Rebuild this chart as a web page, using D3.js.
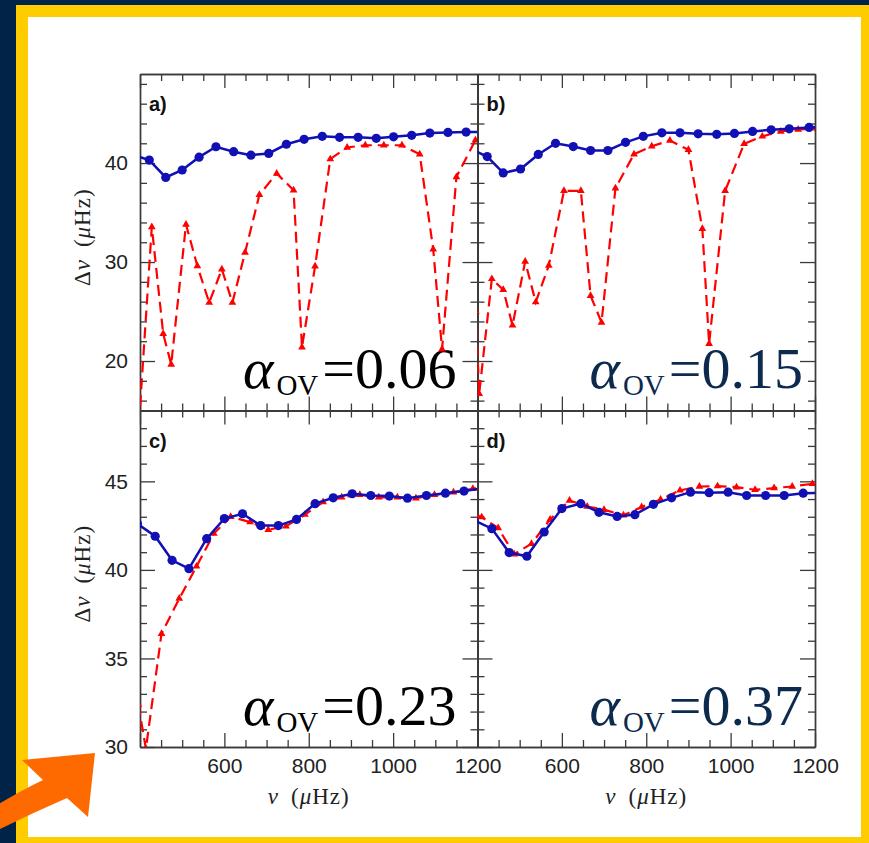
<!DOCTYPE html>
<html>
<head>
<meta charset="utf-8">
<script src="https://cdn.jsdelivr.net/npm/d3@7"></script>
<style>
  body { margin: 0; background: #012348; }
  svg { display: block; }
</style>
</head>
<body>
<svg id="fig"></svg>
<script>
// Δν vs ν, four overshoot values; [ν (μHz), Δν (μHz)]
const blueA = [[382,40.85],[422,40.3],[461,38.55],[500,39.3],[540,40.6],[580,41.65],[622,41.15],[663,40.8],[705,40.97],[747,41.9],[789,42.4],[832,42.7],[873,42.6],[917,42.6],[960,42.5],[1001,42.65],[1044,42.8],[1087,43.03],[1130,43.1],[1173,43.13],[1215,43.15]];
const redA  = [[395,12],[428,33.55],[455,22.76],[474,19.65],[509,33.8],[536,29.6],[564,25.9],[594,29.27],[619,25.9],[649,30.96],[683,36.8],[724,38.95],[764,37.26],[784,21.4],[815,29.57],[851,40.4],[891,41.58],[934,41.8],[978,41.8],[1021,41.8],[1063,40.9],[1095,31.3],[1116,21.2],[1150,38.6],[1195,42.3]];

const blueB = [[380,41.5],[423,40.66],[461,39.0],[502,39.4],[544,40.87],[585,42.0],[627,41.67],[668,41.27],[709,41.27],[751,42.1],[793,42.7],[837,43.06],[880,43.06],[923,42.96],[967,42.9],[1009,43.0],[1052,43.2],[1096,43.36],[1139,43.46],[1186,43.6],[1230,43.7]];
const redB  = [[396,25],[404,16.7],[434,28.3],[461,27.2],[483,23.6],[513,30.05],[538,25.95],[569,29.65],[605,37.2],[645,37.2],[668,26.6],[694,23.9],[727,37.46],[771,40.9],[813,41.7],[856,42.28],[900,41.34],[933,33.36],[949,21.74],[987,37.2],[1032,41.95],[1075,42.7],[1119,43.2],[1160,43.4],[1205,43.5]];

const blueC = [[394,42.6],[436,41.9],[476,40.54],[516,40.07],[558,41.76],[600,42.9],[643,43.17],[686,42.5],[728,42.5],[771,42.85],[815,43.74],[858,44.07],[903,44.3],[947,44.2],[991,44.17],[1034,44.05],[1079,44.2],[1124,44.33],[1168,44.45],[1212,44.6]];
const redC  = [[396,32.4],[414,29.9],[451,36.4],[493,38.38],[534,40.2],[575,42.05],[615,43.0],[661,42.7],[704,42.27],[746,42.46],[791,43.12],[834,43.83],[878,44.1],[921,44.24],[966,44.1],[1010,44.1],[1054,44.05],[1098,44.24],[1143,44.39],[1189,44.58],[1230,44.7]];

const blueD = [[392,42.8],[434,42.33],[475,40.98],[517,40.77],[558,42.14],[600,43.46],[645,43.74],[688,43.25],[731,43.02],[773,43.12],[817,43.7],[860,44.07],[905,44.39],[949,44.36],[994,44.39],[1038,44.2],[1083,44.2],[1127,44.2],[1172,44.33],[1215,44.35]];
const redD  = [[395,43.1],[410,42.98],[449,42.36],[487,40.88],[528,41.48],[572,42.85],[618,43.92],[660,43.58],[700,43.4],[746,43.08],[789,43.55],[834,43.98],[880,44.49],[926,44.71],[969,44.73],[1014,44.67],[1058,44.52],[1103,44.62],[1146,44.71],[1194,44.86]];

const panelLabels = ["a)", "b)", "c)", "d)"];
const alphaValues = ["0.06", "0.15", "0.23", "0.37"];

// ticks
const xDomain = [400, 1200];
const xMajor = [400, 600, 800, 1000, 1200];
const xMinor = [450, 500, 550, 650, 700, 750, 850, 900, 950, 1050, 1100, 1150];
const xTickLabels = [600, 800, 1000, 1200];
const yDomainTop = [15, 49];
const yMajorTop = [20, 30, 40];
const yMinorTop = [16, 18, 22, 24, 26, 28, 32, 34, 36, 38, 42, 44, 46, 48];
const yDomainBot = [30, 49];
const yMajorBot = [30, 35, 40, 45];
const yMinorBot = [31, 32, 33, 34, 36, 37, 38, 39, 41, 42, 43, 44, 46, 47, 48];

const W = 869, H = 843;
const plotLeft = 140, plotTop = 74, pw = 337.5, ph = 336.5;
const navy = "#012348", blue = "#1010b4", red = "#ff0000";
const serif = "'Liberation Serif', 'Times New Roman', serif";
const sans = "'Liberation Sans', Arial, sans-serif";

const svg = d3.select("#fig").attr("width", W).attr("height", H);

// frame
svg.append("rect").attr("width", W).attr("height", H).attr("fill", navy);
svg.append("rect").attr("x", 16).attr("y", 5).attr("width", 880).attr("height", 860).attr("fill", "#ffcc00");
svg.append("rect").attr("x", 28).attr("y", 17).attr("width", 833).attr("height", 820).attr("fill", "#fff");

const panels = [
  { blue: blueA, red: redA, col: 0, row: 0, txt: "#000" },
  { blue: blueB, red: redB, col: 1, row: 0, txt: "#0b2a4e" },
  { blue: blueC, red: redC, col: 0, row: 1, txt: "#000" },
  { blue: blueD, red: redD, col: 1, row: 1, txt: "#0b2a4e" }
];

const axisColor = "#3a3a3a";

function styleAxis(g) {
  g.selectAll("path.domain").attr("stroke", axisColor).attr("stroke-width", 1.4);
  g.selectAll(".tick line").attr("stroke", axisColor).attr("stroke-width", 1.3);
}

panels.forEach((p, i) => {
  const x0 = plotLeft + p.col * pw, y0 = plotTop + p.row * ph;
  const x = d3.scaleLinear().domain(xDomain).range([x0, x0 + pw]);
  const y = d3.scaleLinear().domain(p.row === 0 ? yDomainTop : yDomainBot).range([y0 + ph, y0]);
  const yMajor = p.row === 0 ? yMajorTop : yMajorBot;
  const yMinor = p.row === 0 ? yMinorTop : yMinorBot;

  const g = svg.append("g");

  // inward ticks on all four sides
  const sides = [
    [d3.axisBottom(x), `translate(0,${y0 + ph})`, xMajor, xMinor, 14],
    [d3.axisTop(x), `translate(0,${y0})`, xMajor, xMinor, 14],
    [d3.axisLeft(y), `translate(${x0},0)`, yMajor, yMinor, 15],
    [d3.axisRight(y), `translate(${x0 + pw},0)`, yMajor, yMinor, 15]
  ];
  sides.forEach(([ax, tr, maj, min, len]) => {
    g.append("g").attr("transform", tr)
      .call(ax.tickValues(maj).tickSize(-len).tickSizeOuter(0).tickFormat(""))
      .call(styleAxis);
    g.append("g").attr("transform", tr)
      .call(ax.tickValues(min).tickSize(-7).tickSizeOuter(0).tickFormat(""))
      .call(styleAxis);
  });

  // tick labels
  if (p.col === 0) {
    g.append("g").attr("transform", `translate(${x0},0)`)
      .call(d3.axisLeft(y).tickValues(yMajor).tickSize(0).tickPadding(12).tickFormat(d3.format("d")))
      .call(a => a.select(".domain").remove())
      .selectAll("text")
      .attr("font-family", null)
      .style("font-family", sans).style("font-size", "21px").attr("fill", "#222");

    const yl = g.append("text")
      .attr("transform", `translate(90,${y0 + ph / 2 - 5}) rotate(-90)`)
      .attr("text-anchor", "middle")
      .style("font-family", serif).style("font-size", "23px")
      .style("letter-spacing", "1px").attr("fill", "#222");
    yl.append("tspan").text("Δ");
    yl.append("tspan").style("font-style", "italic").text("ν");
    yl.append("tspan").attr("dx", 12).text("(");
    yl.append("tspan").style("font-style", "italic").text("μ");
    yl.append("tspan").text("Hz)");
  }
  if (p.row === 1) {
    g.append("g").attr("transform", `translate(0,${y0 + ph})`)
      .call(d3.axisBottom(x).tickValues(xTickLabels).tickSize(0).tickPadding(11).tickFormat(d3.format("d")))
      .call(a => a.select(".domain").remove())
      .selectAll("text")
      .attr("font-family", null)
      .style("font-family", sans).style("font-size", "21px").attr("fill", "#222");

    const xl = g.append("text")
      .attr("x", x0 + pw / 2).attr("y", 804)
      .attr("text-anchor", "middle")
      .style("font-family", serif).style("font-size", "23px")
      .style("letter-spacing", "1px").attr("fill", "#222");
    xl.append("tspan").style("font-style", "italic").text("ν");
    xl.append("tspan").attr("dx", 12).text("(");
    xl.append("tspan").style("font-style", "italic").text("μ");
    xl.append("tspan").text("Hz)");
  }

  // data, clipped to the panel
  const clipId = "clip" + i;
  svg.append("clipPath").attr("id", clipId)
    .append("rect").attr("x", x0).attr("y", y0).attr("width", pw).attr("height", ph);
  const data = svg.append("g").attr("clip-path", `url(#${clipId})`);

  const line = d3.line().x(d => x(d[0])).y(d => y(d[1]));

  data.append("path").datum(p.red)
    .attr("d", line).attr("fill", "none")
    .attr("stroke", red).attr("stroke-width", 2.2)
    .attr("stroke-dasharray", "11,6");
  data.selectAll("path.tri").data(p.red).join("path")
    .attr("class", "tri")
    .attr("d", d3.symbol(d3.symbolTriangle, 26))
    .attr("transform", d => `translate(${x(d[0])},${y(d[1])})`)
    .attr("fill", red);

  data.append("path").datum(p.blue)
    .attr("d", line).attr("fill", "none")
    .attr("stroke", blue).attr("stroke-width", 2.5);
  data.selectAll("circle").data(p.blue).join("circle")
    .attr("cx", d => x(d[0])).attr("cy", d => y(d[1]))
    .attr("r", 4.6).attr("fill", blue);

  // panel letter
  g.append("text")
    .attr("x", x0 + 9).attr("y", y0 + 37)
    .style("font-family", sans).style("font-weight", "bold").style("font-size", "20px")
    .attr("fill", "#111")
    .text(panelLabels[i]);

  // overshoot annotation
  const pad = p.col === 0 ? 21 : 12;
  const at = g.append("text")
    .attr("x", x0 + pw - pad).attr("y", y0 + 314)
    .attr("text-anchor", "end")
    .style("font-family", serif).style("font-size", "58px").attr("fill", p.txt);
  at.append("tspan").style("font-style", "italic").text("α");
  at.append("tspan").style("font-size", "29px").attr("dx", 3).attr("dy", 7).text("OV");
  at.append("tspan").attr("dx", 4).attr("dy", -7).text("=" + alphaValues[i]);
});

// orange pointer arrow
svg.append("path")
  .attr("d", "M95,753 L22,760 L43,780 Q20,791 -6,807 L-6,832 Q30,814 67,798 L88,817 Z")
  .attr("fill", "#ff6a00");
</script>
</body>
</html>
